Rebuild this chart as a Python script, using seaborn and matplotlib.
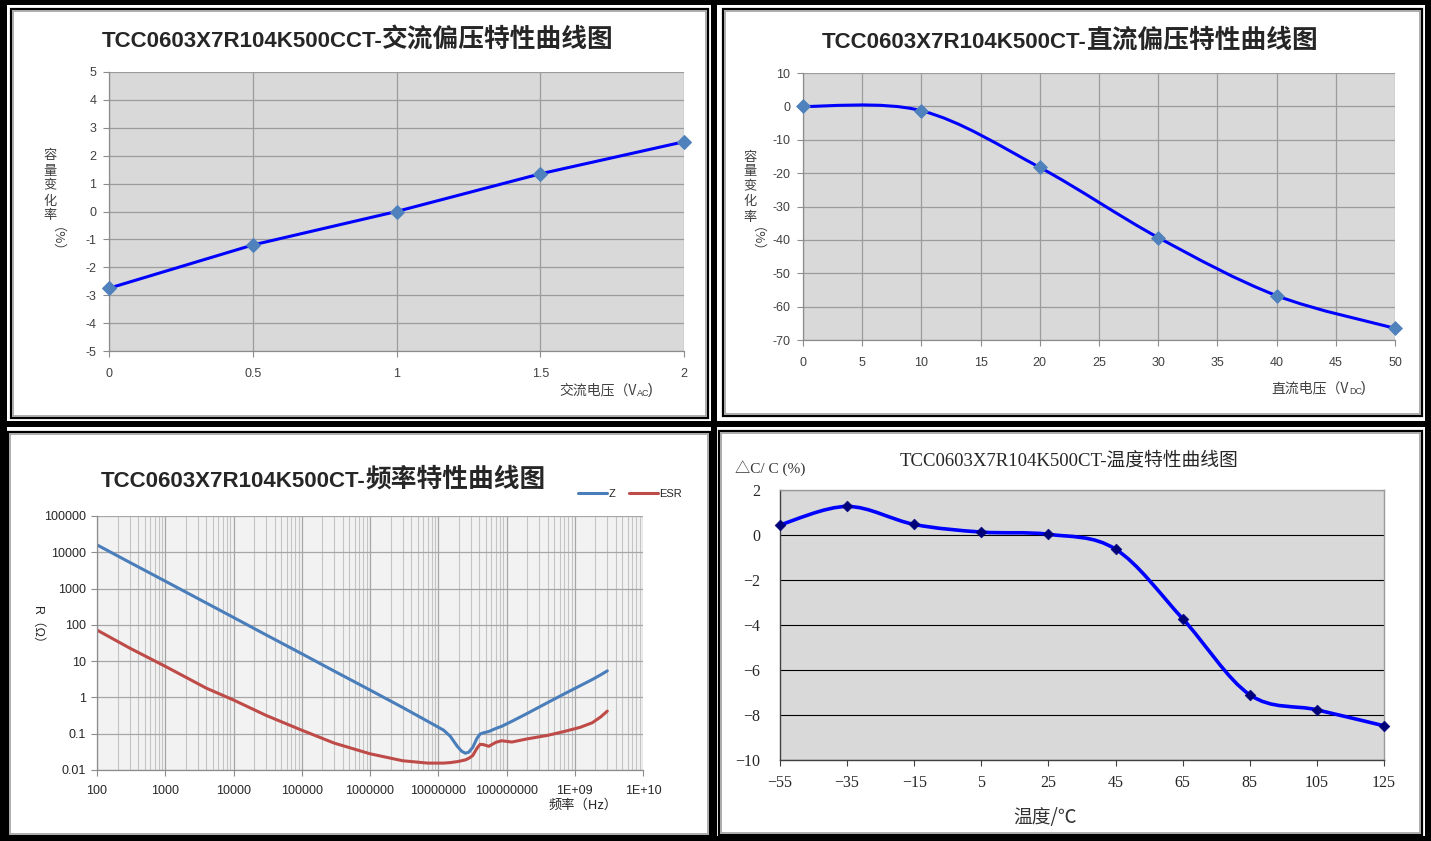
import matplotlib
matplotlib.use("Agg")
import matplotlib.pyplot as plt
import seaborn as sns
import pandas as pd
from matplotlib.patches import Rectangle, PathPatch
from matplotlib.path import Path
from matplotlib.ticker import LogLocator, NullFormatter, NullLocator

# ---- data ----
ac_voltage = [0, 0.5, 1, 1.5, 2]
ac_change = [-2.75, -1.2, 0.0, 1.35, 2.5]
ac_tick_labels = ["0", "0.5", "1", "1.5", "2"]

dc_voltage = [0, 10, 20, 30, 40, 50]
dc_change = [0.0, -1.3, -18.3, -39.3, -56.7, -66.5]

freq = [1e2, 3e2, 1e3, 4e3, 1e4, 3e4, 1e5, 3e5, 1e6, 3e6, 7e6, 1.2e7, 1.5e7,
        1.9e7, 2.2e7, 2.5e7, 2.8e7, 3.2e7, 3.7e7, 4.1e7, 4.6e7, 5.5e7, 7e7, 8.5e7,
        1.2e8, 2e8, 4e8, 7e8, 1.2e9, 1.8e9, 2.4e9, 3e9]
z_ohm = [16000, 5300, 1600, 400, 160, 53, 16, 5.3, 1.6, 0.53, 0.22, 0.125, 0.085,
         0.045, 0.033, 0.029, 0.031, 0.042, 0.075, 0.098, 0.106, 0.115, 0.14, 0.16,
         0.22, 0.36, 0.72, 1.25, 2.1, 3.1, 4.2, 5.4]
esr_ohm = [72, 23, 7.2, 1.8, 0.85, 0.32, 0.125, 0.055, 0.028, 0.018, 0.0155, 0.0155,
           0.016, 0.017, 0.018, 0.019, 0.021, 0.025, 0.04, 0.051, 0.05, 0.045, 0.058,
           0.064, 0.059, 0.072, 0.09, 0.115, 0.15, 0.2, 0.29, 0.42]
freq_ticks = [1e2, 1e3, 1e4, 1e5, 1e6, 1e7, 1e8, 1e9, 1e10]
freq_tick_labels = ["100", "1000", "10000", "100000", "1000000", "10000000",
                    "100000000", "1E+09", "1E+10"]
r_ticks = [0.01, 0.1, 1, 10, 100, 1000, 10000, 100000]
r_tick_labels = ["0.01", "0.1", "1", "10", "100", "1000", "10000", "100000"]

temp = [-55, -35, -15, 5, 25, 45, 65, 85, 105, 125]
temp_change = [0.45, 1.27, 0.47, 0.13, 0.03, -0.63, -3.72, -7.1, -7.77, -8.48]

# ---- setup ----
sns.set_style("white")
plt.rcParams["font.family"] = ["Liberation Sans", "Noto Sans CJK SC", "DejaVu Sans"]
plt.rcParams["axes.unicode_minus"] = False

W, H = 1431, 841
fig = plt.figure(figsize=(W / 100, H / 100), dpi=100)
CJK = ["Noto Sans CJK SC", "DejaVu Sans"]
SERIF = ["Liberation Serif", "Noto Sans CJK SC", "DejaVu Sans"]


def add_ax(x0, y0, x1, y1):
    return fig.add_axes([x0 / W, 1 - y1 / H, (x1 - x0) / W, (y1 - y0) / H])


def put(x, y, s, **kw):
    kw.setdefault("va", "center")
    return fig.text(x / W, 1 - y / H, s, **kw)


def block(x0, y0, x1, y1, color="black"):
    fig.add_artist(Rectangle((x0 / W, 1 - y1 / H), (x1 - x0) / W, (y1 - y0) / H,
                             transform=fig.transFigure, facecolor=color,
                             edgecolor="none", zorder=5))


def frame(x0, y0, x1, y1):
    fig.add_artist(Rectangle((x0 / W, 1 - y1 / H), (x1 - x0) / W, (y1 - y0) / H,
                             transform=fig.transFigure, fill=False,
                             edgecolor="black", lw=1.6, zorder=5))
    fig.add_artist(Rectangle(((x0 + 2) / W, 1 - (y1 - 2) / H), (x1 - x0 - 4) / W,
                             (y1 - y0 - 4) / H, transform=fig.transFigure, fill=False,
                             edgecolor="#a0a0a0", lw=1.2, zorder=5))


def title(xj, y, latin, cjk):
    put(xj, y, latin, ha="right", va="baseline", fontsize=16, fontweight="bold",
        family=["Liberation Sans"])
    put(xj, y, cjk, ha="left", va="baseline", fontsize=18.5, fontweight="bold",
        family=CJK)


def smooth_curve(ax, xs, ys, color, lw):
    # Excel-like smoothed line through the data points
    pts = list(zip(xs, ys))
    verts = [pts[0]]
    codes = [Path.MOVETO]
    for i in range(len(pts) - 1):
        p0 = pts[i - 1] if i > 0 else pts[i]
        p1, p2 = pts[i], pts[i + 1]
        p3 = pts[i + 2] if i + 2 < len(pts) else pts[i + 1]
        c1 = (p1[0] + (p2[0] - p0[0]) / 6, p1[1] + (p2[1] - p0[1]) / 6)
        c2 = (p2[0] - (p3[0] - p1[0]) / 6, p2[1] - (p3[1] - p1[1]) / 6)
        verts += [c1, c2, p2]
        codes += [Path.CURVE4] * 3
    ax.add_patch(PathPatch(Path(verts, codes), fill=False, edgecolor=color,
                           lw=lw, zorder=3, capstyle="round"))


def stacked_ylabel(x, ytop, yparen):
    for i, ch in enumerate("容量变化率"):
        put(x, ytop + 15 * i, ch, ha="center", fontsize=9.5, color="#404040",
            family=CJK)
    put(x, yparen, "（%）", ha="center", rotation=-90, fontsize=9.5,
        color="#404040", family=CJK)


def excel_axes(ax):
    ax.set_facecolor("#d9d9d9")
    ax.grid(True, color="#9c9c9c", lw=0.9)
    ax.set_axisbelow(True)
    for side in ["top", "right"]:
        ax.spines[side].set_visible(False)
    for side in ["left", "bottom"]:
        ax.spines[side].set_color("#8c8c8c")
        ax.spines[side].set_linewidth(0.9)
    ax.tick_params(axis="both", labelsize=9, labelcolor="#404040", color="#8c8c8c",
                   length=4, width=0.8, pad=5, direction="out", left=True, bottom=True)
    ax.set_xlabel("")
    ax.set_ylabel("")


# ---- panel frames ----
block(0, 0, W, 5)
block(0, 836, W, H)
block(0, 0, 7, H)
block(1425, 0, W, H)
block(711, 0, 717, H)
block(0, 421, W, 427)
frame(11, 9, 708, 418)
frame(723, 9, 1422, 416)
frame(8, 432, 710, 836)
frame(719, 431, 1422, 835)

# ---- top left: AC bias ----
ax1 = add_ax(109, 72, 684, 351)
ac_df = pd.DataFrame({"v": ac_voltage, "c": ac_change})
sns.lineplot(data=ac_df, x="v", y="c", ax=ax1, color="#0000ff", lw=2.2,
             marker="D", markersize=7, markerfacecolor="#4f81bd",
             markeredgecolor="#4f81bd", zorder=3)
ax1.set_xlim(0, 2)
ax1.set_ylim(-5, 5)
ax1.set_xticks(ac_voltage)
ax1.set_xticklabels(ac_tick_labels)
ax1.set_yticks(range(-5, 6))
excel_axes(ax1)
ax1.tick_params(axis="x", pad=8)
for m in ax1.lines:
    m.set_clip_on(False)
title(382, 47, "TCC0603X7R104K500CCT-", "交流偏压特性曲线图")
stacked_ylabel(50, 156, 246)
put(637, 390, "交流电压（V", ha="right", fontsize=10, color="#404040", family=CJK)
put(637, 394, "AC", ha="left", fontsize=6.5, color="#404040")
put(648, 390, ")", ha="left", fontsize=10, color="#404040")

# ---- top right: DC bias ----
ax2 = add_ax(803, 73, 1395, 340)
smooth_curve(ax2, dc_voltage, dc_change, "#0000ff", 2.2)
sns.scatterplot(x=dc_voltage, y=dc_change, ax=ax2, marker="D", s=50,
                color="#4f81bd", edgecolor="#4f81bd", zorder=4, clip_on=False)
ax2.set_xlim(0, 50)
ax2.set_ylim(-70, 10)
ax2.set_xticks(range(0, 51, 5))
ax2.set_yticks(range(-70, 11, 10))
excel_axes(ax2)
ax2.tick_params(axis="x", pad=8)
title(1087, 48, "TCC0603X7R104K500CT-", "直流偏压特性曲线图")
stacked_ylabel(750, 157, 246)
put(1349, 388, "直流电压（V", ha="right", fontsize=10, color="#404040", family=CJK)
put(1349, 392, "DC", ha="left", fontsize=6.5, color="#404040")
put(1361, 388, ")", ha="left", fontsize=10, color="#404040")

# ---- bottom left: frequency ----
ax3 = add_ax(97, 516, 643, 770)
n = len(freq)
freq_df = pd.DataFrame({"freq": freq * 2, "r": z_ohm + esr_ohm,
                        "series": ["Z"] * n + ["ESR"] * n})
sns.lineplot(data=freq_df, x="freq", y="r", hue="series", estimator=None,
             palette={"Z": "#4a7ebb", "ESR": "#be4b48"}, lw=2.2, ax=ax3)
ax3.set_xscale("log")
ax3.set_yscale("log")
ax3.set_xlim(1e2, 1e10)
ax3.set_ylim(1e-2, 1e5)
ax3.set_xticks(freq_ticks)
ax3.set_xticklabels(freq_tick_labels)
ax3.set_yticks(r_ticks)
ax3.set_yticklabels(r_tick_labels)
ax3.xaxis.set_minor_locator(LogLocator(base=10, subs=range(2, 10), numticks=100))
ax3.xaxis.set_minor_formatter(NullFormatter())
ax3.yaxis.set_minor_locator(NullLocator())
ax3.set_facecolor("#f2f2f2")
ax3.grid(True, which="major", color="#a6a6a6", lw=0.9)
ax3.grid(True, which="minor", axis="x", color="#c4c4c4", lw=0.8)
ax3.set_axisbelow(True)
for side in ["top", "right"]:
    ax3.spines[side].set_visible(False)
for side in ["left", "bottom"]:
    ax3.spines[side].set_color("#8c8c8c")
    ax3.spines[side].set_linewidth(0.9)
ax3.tick_params(axis="both", which="major", labelsize=9, labelcolor="#262626",
                color="#8c8c8c", length=4, width=0.8, pad=4, left=True, bottom=True)
ax3.tick_params(axis="x", which="major", pad=7)
ax3.tick_params(which="minor", length=0)
ax3.set_xlabel("")
ax3.set_ylabel("")
handles, labels = ax3.get_legend_handles_labels()
ax3.get_legend().remove()
fig.legend(handles, labels, loc="center right", bbox_to_anchor=(682 / W, 1 - 494 / H),
           ncol=2, frameon=False, fontsize=8, handlelength=2.6, handletextpad=0.15,
           columnspacing=1.2, borderaxespad=0, borderpad=0)
title(365, 487, "TCC0603X7R104K500CT-", "频率特性曲线图")
put(37, 628, "R（Ω）", ha="center", rotation=-90, fontsize=9, color="#262626")
put(583, 805, "频率（Hz）", ha="center", fontsize=9.5, color="#262626", family=CJK)

# ---- bottom right: temperature ----
ax4 = add_ax(780, 490, 1384, 760)
smooth_curve(ax4, temp, temp_change, "#0000ff", 2.6)
sns.scatterplot(x=temp, y=temp_change, ax=ax4, marker="D", s=30, color="#00007a",
                edgecolor="#00007a", zorder=4, clip_on=False)
ax4.set_xlim(-55, 125)
ax4.set_ylim(-10, 2)
ax4.set_xticks(range(-55, 126, 20))
ax4.set_xticklabels([str(t).replace("-", "\u2212") for t in range(-55, 126, 20)])
ax4.set_yticks(range(-10, 3, 2))
ax4.set_yticklabels([str(t).replace("-", "\u2212") for t in range(-10, 3, 2)])
ax4.set_facecolor("#d9d9d9")
ax4.grid(True, axis="y", color="black", lw=0.8)
ax4.grid(False, axis="x")
ax4.set_axisbelow(True)
for side in ["top", "right"]:
    ax4.spines[side].set_color("#9a9a9a")
    ax4.spines[side].set_linewidth(1.0)
for side in ["left", "bottom"]:
    ax4.spines[side].set_color("#404040")
    ax4.spines[side].set_linewidth(1.0)
ax4.tick_params(axis="x", labelsize=11.5, length=4, width=0.8, color="#404040",
                pad=7, bottom=True, direction="out")
ax4.tick_params(axis="y", labelsize=11.5, length=0, pad=14)
for lab in ax4.get_xticklabels() + ax4.get_yticklabels():
    lab.set_family(SERIF)
ax4.set_xlabel("")
ax4.set_ylabel("")
put(1069, 461, "TCC0603X7R104K500CT-温度特性曲线图", ha="center", fontsize=13.5,
    family=SERIF)
put(735, 468, "△C/ C (%)", ha="left", fontsize=11, family=SERIF, color="#333333")
put(1045, 818, "温度/℃", ha="center", fontsize=13.5, family=CJK, color="#333333")

fig.savefig("out.png", dpi=100)
